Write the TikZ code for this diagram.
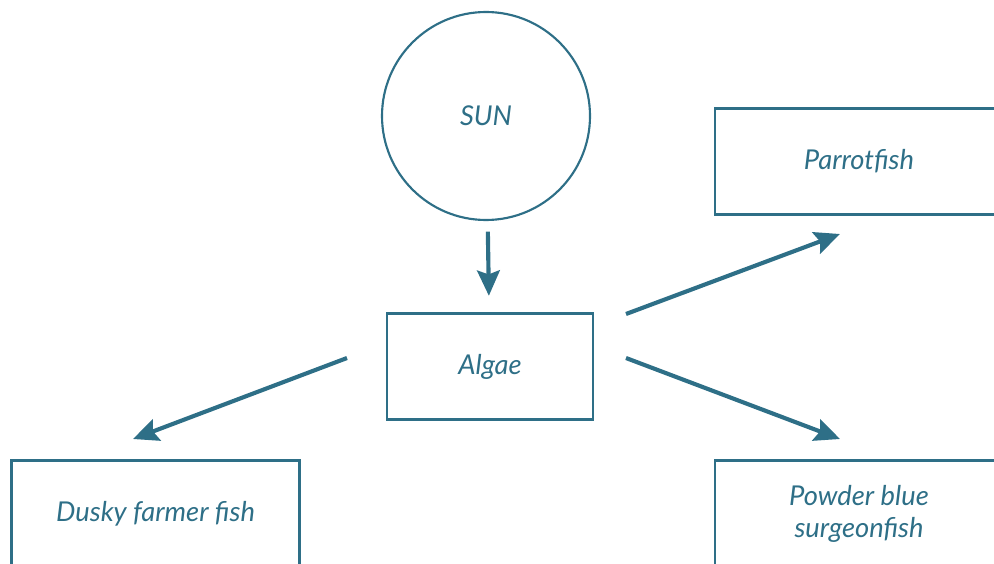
\documentclass[tikz,border=0pt]{standalone}
\usepackage{fontspec}
\setmainfont{Lato}
\usepackage{xcolor}
\usetikzlibrary{arrows.meta,positioning}
\definecolor{seablue}{RGB}{46,111,135}

\begin{document}
\begin{tikzpicture}[
  x=0.75pt, y=-0.75pt,
  every node/.style={text=seablue, font=\fontsize{20.5}{24}\selectfont\itshape, align=center},
  box/.style={draw=seablue, line width=2.1pt, minimum width=154.5pt, minimum height=80pt},
  fishbox/.style={box, minimum width=216pt},
  sunnode/.style={circle, draw=seablue, line width=1.6pt, minimum size=156pt},
  flow/.style={draw=seablue, line width=3.1pt, -{Stealth[length=19pt, width=17pt, inset=3pt]}}
]
  \useasboundingbox (0,0) rectangle (994,563);
  \clip (0,0) rectangle (994,563);
  % boxes on the right and at the bottom run over the edge of the page
  \node[sunnode] (sun) at (486,116) {SUN};
  \node[box] (algae) at (490,366.5) {Algae};
  \node[fishbox] (parrot) at (859,161.5) {Parrotfish};
  \node[fishbox] (dusky) at (155.5,513.5) {Dusky farmer fish};
  \node[fishbox] (powder) at (859,513.5) {Powder blue\\surgeonfish};
  % arrow ends
  \coordinate (prTail) at (626,314);
  \coordinate (prTip) at (840,234);
  \coordinate (pwTail) at (626,358);
  \coordinate (pwTip) at (840,439);
  \coordinate (dkTail) at (347,358);
  \coordinate (dkTip) at (133,439);
  \draw[flow, shorten <=8pt, shorten >=12pt] (sun) -- (algae);
  \draw[flow] (prTail) -- (prTip);
  \draw[flow] (pwTail) -- (pwTip);
  \draw[flow] (dkTail) -- (dkTip);
\end{tikzpicture}
\end{document}
